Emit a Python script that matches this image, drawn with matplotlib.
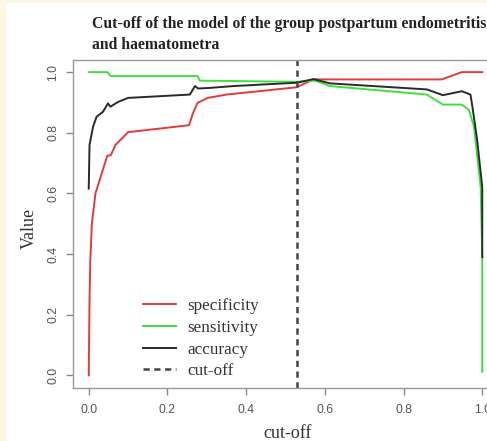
import matplotlib.pyplot as plt
from matplotlib.patches import Rectangle
from matplotlib.lines import Line2D

# cut-off curves
spec_x = [0.0, 0.002, 0.004, 0.008, 0.017, 0.028, 0.047, 0.056, 0.068, 0.100, 0.255, 0.265, 0.276, 0.302, 0.350, 0.528, 0.571, 0.897, 0.948, 1.0]
spec_y = [0.0, 0.25, 0.38, 0.50, 0.600, 0.645, 0.724, 0.726, 0.760, 0.802, 0.825, 0.865, 0.898, 0.915, 0.926, 0.950, 0.976, 0.976, 1.0, 1.0]

sens_x = [0.0, 0.047, 0.056, 0.277, 0.282, 0.528, 0.575, 0.613, 0.859, 0.900, 0.948, 0.966, 0.979, 0.992, 0.996, 1.0, 1.0]
sens_y = [1.0, 1.0, 0.987, 0.987, 0.972, 0.968, 0.972, 0.954, 0.926, 0.893, 0.893, 0.875, 0.82, 0.666, 0.62, 0.39, 0.012]

acc_x = [0.0, 0.002, 0.011, 0.020, 0.036, 0.049, 0.055, 0.075, 0.100, 0.257, 0.270, 0.278, 0.308, 0.367, 0.528, 0.571, 0.613, 0.859, 0.900, 0.948, 0.970, 0.975, 0.987, 1.0, 1.0]
acc_y = [0.616, 0.76, 0.82, 0.853, 0.869, 0.897, 0.886, 0.902, 0.915, 0.926, 0.954, 0.946, 0.948, 0.954, 0.965, 0.977, 0.963, 0.943, 0.924, 0.937, 0.926, 0.886, 0.776, 0.62, 0.39]

cutoff = 0.53
ticks = [0.0, 0.2, 0.4, 0.6, 0.8, 1.0]
labels = ['specificity', 'sensitivity', 'accuracy', 'cut-off']

W, H = 487, 441
fig = plt.figure(figsize=(W/100, H/100), dpi=100)
fig.patch.set_facecolor('#fdf8e4')
fig.patches.append(Rectangle((6/W, 0), 1, 1-3/H, transform=fig.transFigure,
                             facecolor='white', edgecolor='none', zorder=-1))

ax = fig.add_axes([73/W, 1-387.5/H, 425/W, 327.5/H])
ax.set_xlim(-0.04, 1.04)
ax.set_ylim(-0.04, 1.04)

ax.plot(spec_x, spec_y, color='#e03c3c', lw=1.4)
ax.plot(sens_x, sens_y, color='#3ee03e', lw=1.4)
ax.plot(acc_x, acc_y, color='#2a2a2a', lw=1.4)
ax.axvline(cutoff, color='#444444', lw=1.8, ls=(0, (2.5, 1.8)))

for s in ax.spines.values():
    s.set_color('#999999')
    s.set_linewidth(1.0)
ax.set_xticks(ticks)
ax.set_yticks(ticks)
ax.set_xticklabels(['0.0', '0.2', '0.4', '0.6', '0.8', '1.0'])
ax.set_yticklabels(['0.0', '0.2', '0.4', '0.6', '0.8', '1.0'], rotation=90, va='center')
ax.tick_params(axis='both', length=5, color='#888888', labelcolor='#555555',
               labelsize=8.8, width=1)
ax.tick_params(axis='x', pad=7)
ax.tick_params(axis='y', pad=5)
for t in ax.get_xticklabels() + ax.get_yticklabels():
    t.set_family('Liberation Sans')

serif = 'Liberation Serif'
fig.text(92/W, 1-16/H, 'Cut-off of the model of the group postpartum endometritis\nand haematometra',
         family=serif, fontweight='bold', fontsize=11.3, ha='left', va='top',
         color='#222222', linespacing=1.45)
fig.text(29/W, 1-228/H, 'Value', family=serif, fontsize=13, rotation=90,
         ha='center', va='center', color='#333333')
fig.text(288/W, 1-433/H, 'cut-off', family=serif, fontsize=13,
         ha='center', va='center', color='#333333')

handles = [Line2D([], [], color='#e03c3c', lw=1.4),
           Line2D([], [], color='#3ee03e', lw=1.4),
           Line2D([], [], color='#2a2a2a', lw=1.4),
           Line2D([], [], color='#444444', lw=1.8, ls=(0, (2.5, 1.8)))]
leg = fig.legend(handles, labels, loc='upper left', bbox_to_anchor=(143/W, 1-298/H),
                 bbox_transform=fig.transFigure, frameon=False, borderpad=0,
                 borderaxespad=0, handlelength=1.95, handletextpad=0.65,
                 labelspacing=0.34, prop={'family': serif, 'size': 12.3})
for t in leg.get_texts():
    t.set_color('#333333')

fig.savefig('out.png', dpi=100)
